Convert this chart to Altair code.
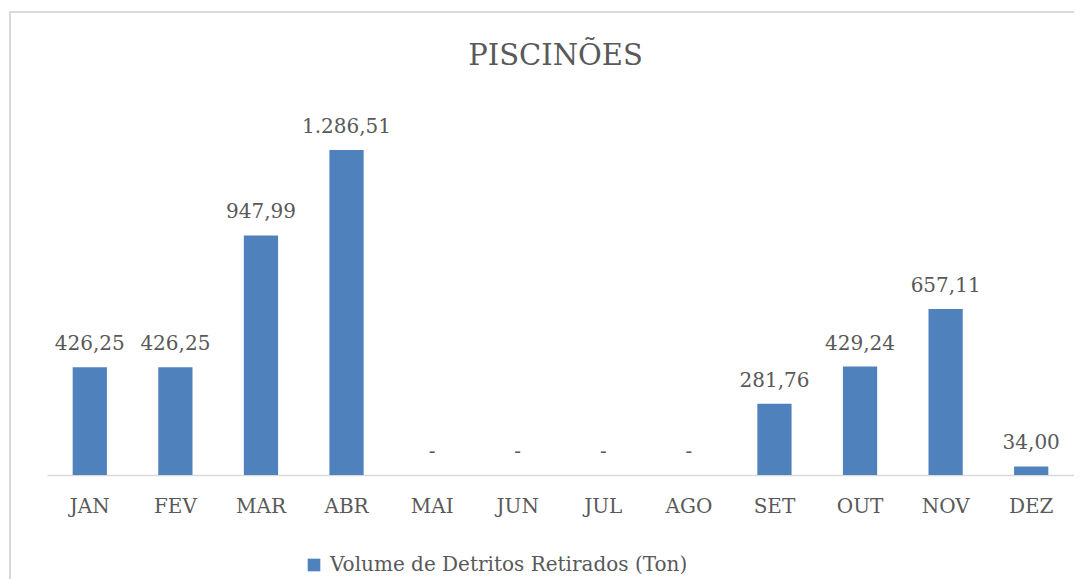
import altair as alt
import pandas as pd

months = ["JAN", "FEV", "MAR", "ABR", "MAI", "JUN", "JUL", "AGO", "SET", "OUT", "NOV", "DEZ"]
volumes = [426.25, 426.25, 947.99, 1286.51, 0, 0, 0, 0, 281.76, 429.24, 657.11, 34.00]
series_name = "Volume de Detritos Retirados (Ton)"
chart_title = "PISCINÕES"


def fmt(v):
    if v == 0:
        return "-"
    s = f"{v:,.2f}"
    return s.replace(",", "_").replace(".", ",").replace("_", ".")


df = pd.DataFrame({
    "mes": months,
    "vol": volumes,
    "label": [fmt(v) for v in volumes],
    "serie": [series_name] * len(months),
})

FONT = "DejaVu Serif"
GRAY = "#595959"
BLUE = "#4f81bd"

x = alt.X(
    "mes:N", sort=months, title=None,
    scale=alt.Scale(paddingInner=0.6, paddingOuter=0.3),
    axis=alt.Axis(labelAngle=0, labelFont=FONT, labelFontSize=20, labelColor=GRAY,
                  ticks=False, tickSize=0, labelPadding=21,
                  domainColor="#d9d9d9", domainWidth=1.5, grid=False),
)
y = alt.Y("vol:Q", scale=alt.Scale(domain=[0, 1500]), axis=None)

bars = alt.Chart(df).mark_bar().encode(
    x=x, y=y,
    color=alt.Color(
        "serie:N", scale=alt.Scale(range=[BLUE]),
        legend=alt.Legend(title=None, orient="none", legendX=257, legendY=459,
                          symbolType="square", symbolSize=160, symbolStrokeWidth=0,
                          labelFont=FONT, labelFontSize=20, labelColor=GRAY,
                          labelOffset=6, labelLimit=0, padding=0),
    ),
)

labels = alt.Chart(df).mark_text(
    font=FONT, fontSize=20, color=GRAY, baseline="alphabetic", dy=-17
).encode(x=x, y=y, text="label:N")

border = alt.Chart(pd.DataFrame({"k": [0]})).mark_rect(
    fillOpacity=0, stroke="#d9d9d9", strokeWidth=2
).encode(x=alt.value(-37), x2=alt.value(2000), y=alt.value(-84), y2=alt.value(2000))

chart = alt.layer(border, bars, labels).properties(
    width=1027, height=379,
    title=alt.TitleParams(chart_title, font=FONT, fontSize=29, fontWeight="normal",
                          color=GRAY, anchor="middle", frame="group",
                          baseline="alphabetic", offset=-83, dx=-5),
    autosize=alt.AutoSizeParams(type="none"),
    padding={"left": 39, "top": 88, "right": 0, "bottom": 104},
).configure_view(stroke=None)

chart.save("out.html", embed_options={"renderer": "svg", "actions": False})
